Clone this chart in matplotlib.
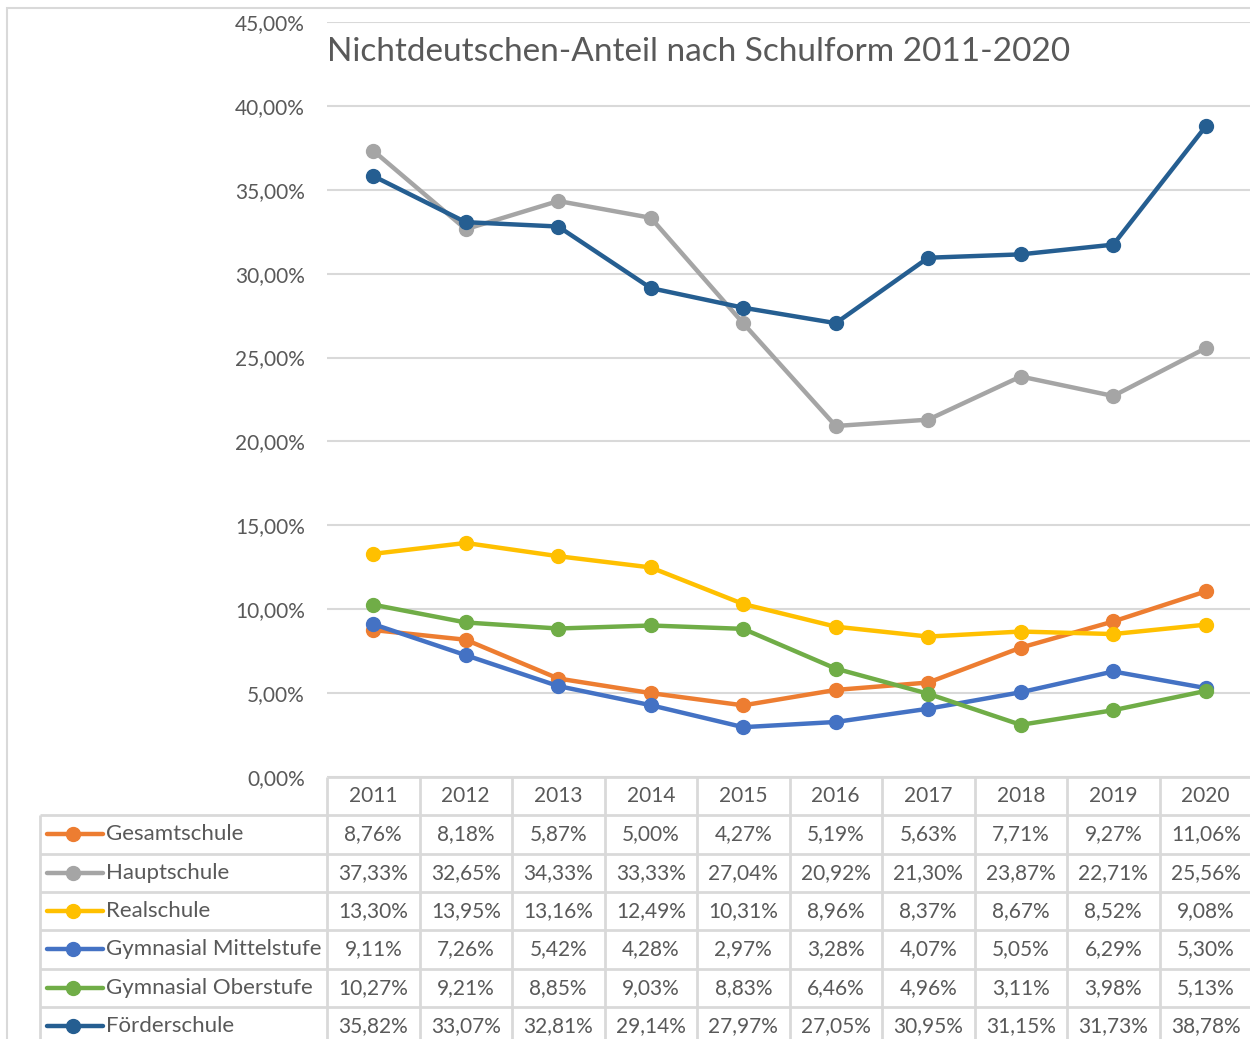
import numpy as np
import matplotlib.pyplot as plt
from matplotlib.patches import Rectangle
from matplotlib.ticker import FuncFormatter

plt.rcParams['font.family'] = ['Lato', 'DejaVu Sans']

years = ['2011', '2012', '2013', '2014', '2015', '2016', '2017', '2018', '2019', '2020']
gesamtschule = [8.76, 8.18, 5.87, 5.00, 4.27, 5.19, 5.63, 7.71, 9.27, 11.06]
hauptschule = [37.33, 32.65, 34.33, 33.33, 27.04, 20.92, 21.30, 23.87, 22.71, 25.56]
realschule = [13.30, 13.95, 13.16, 12.49, 10.31, 8.96, 8.37, 8.67, 8.52, 9.08]
gym_mittel = [9.11, 7.26, 5.42, 4.28, 2.97, 3.28, 4.07, 5.05, 6.29, 5.30]
gym_ober = [10.27, 9.21, 8.85, 9.03, 8.83, 6.46, 4.96, 3.11, 3.98, 5.13]
foerderschule = [35.82, 33.07, 32.81, 29.14, 27.97, 27.05, 30.95, 31.15, 31.73, 38.78]

names = ['Gesamtschule', 'Hauptschule', 'Realschule', 'Gymnasial Mittelstufe',
         'Gymnasial Oberstufe', 'Förderschule']
series = [gesamtschule, hauptschule, realschule, gym_mittel, gym_ober, foerderschule]
colors = ['#ED7D31', '#A5A5A5', '#FFC000', '#4472C4', '#70AD47', '#255E91']

txt = '#595959'
grid_c = '#D9D9D9'
W, H = 1250, 1039


def pct(v):
    return f"{v:.2f}%".replace('.', ',')


fig = plt.figure(figsize=(12.5, 10.39), dpi=100)

# chart frame (only top/left visible)
fig.add_artist(Rectangle((7 / W, -0.1), 1.5, 1 - 8 / H + 0.1, transform=fig.transFigure,
                         fill=False, ec=grid_c, lw=1.5))

ax = fig.add_axes([327 / W, 1 - 777 / H, 925 / W, 755 / H])
x = np.arange(len(years))
for vals, c in zip(series, colors):
    ax.plot(x, np.array(vals) / 100, color=c, lw=3.2, marker='o', ms=10,
            solid_capstyle='round', zorder=3)
ax.set_xlim(-0.5, len(years) - 0.5)
ax.set_ylim(0, 0.45)
ax.set_yticks(np.arange(0, 0.4501, 0.05))
ax.yaxis.set_major_formatter(FuncFormatter(lambda v, _: pct(v * 100)))
ax.set_xticks([])
for s in ax.spines.values():
    s.set_visible(False)
ax.grid(axis='y', color=grid_c, lw=1.5)
ax.set_axisbelow(True)
ax.tick_params(axis='y', length=0, pad=16, labelsize=15, labelcolor=txt)

fig.text(327 / W, 1 - 52 / H, 'Nichtdeutschen-Anteil nach Schulform 2011-2020',
         ha='left', va='center', fontsize=24, color=txt)

# data table under the plot
row_px = 38.3
tab = fig.add_axes([327 / W, 0, 925 / W, (H - 777) / H])
tab.set_xlim(-0.5, len(years) - 0.5)
tab.set_ylim((H - 777) / row_px, 0)
tab.axis('off')
col_px = 925 / len(years)
leg_left = -0.5 - (327 - 40) / col_px

tab.hlines(0, -0.5, len(years) - 0.5, color=grid_c, lw=2, clip_on=False)
tab.hlines(np.arange(1, len(series) + 2), leg_left, len(years) - 0.5, color=grid_c, lw=2, clip_on=False)
tab.vlines(np.arange(-0.5, len(years) + 0.5, 1), 0, len(series) + 1.5, color=grid_c, lw=2, clip_on=False)
tab.vlines(leg_left, 1, len(series) + 1.5, color=grid_c, lw=2, clip_on=False)

for i, yr in enumerate(years):
    tab.text(i, 0.5, yr, ha='center', va='center', fontsize=15, color=txt)

for r, (name, vals, c) in enumerate(zip(names, series, colors)):
    yc = r + 1.5
    tab.plot([leg_left + 7 / col_px, leg_left + 63 / col_px], [yc, yc], color=c, lw=3.2,
             solid_capstyle='round', clip_on=False)
    tab.plot(leg_left + 33 / col_px, yc, 'o', color=c, ms=10, clip_on=False)
    tab.text(leg_left + 66 / col_px, yc, name, ha='left', va='center', fontsize=16, color=txt)
    for i, v in enumerate(vals):
        tab.text(i, yc, pct(v), ha='center', va='center', fontsize=15, color=txt)

fig.savefig('out.png', dpi=100)
